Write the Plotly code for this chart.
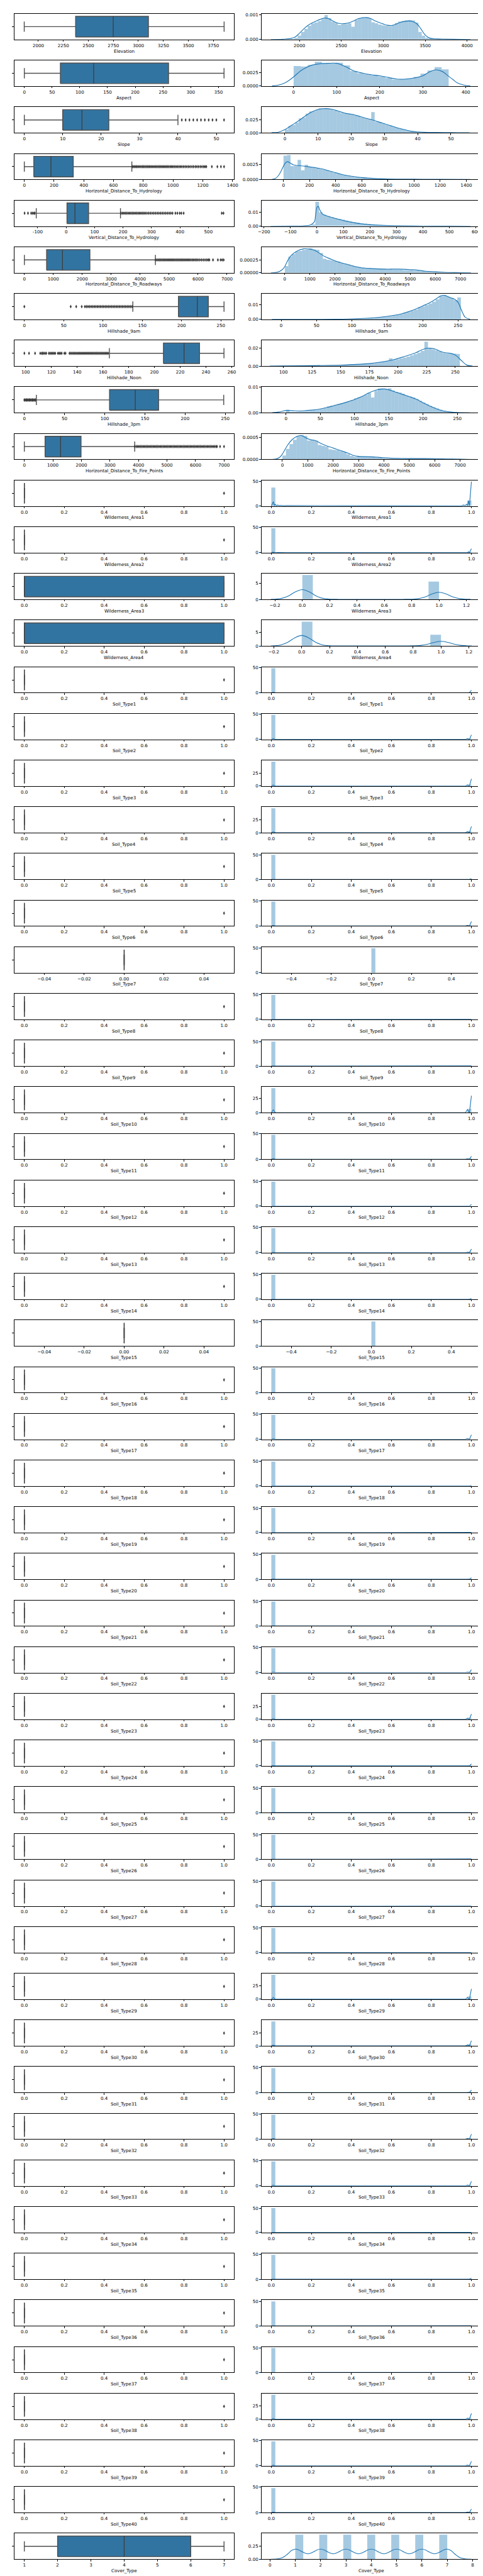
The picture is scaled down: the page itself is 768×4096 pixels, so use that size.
import plotly.graph_objects as go

# ====================== DATA ======================
CONT_NAMES = ["Elevation", "Aspect", "Slope", "Horizontal_Distance_To_Hydrology",
              "Vertical_Distance_To_Hydrology", "Horizontal_Distance_To_Roadways",
              "Hillshade_9am", "Hillshade_Noon", "Hillshade_3pm",
              "Horizontal_Distance_To_Fire_Points"]
WILD_NAMES = ["Wilderness_Area1", "Wilderness_Area2", "Wilderness_Area3", "Wilderness_Area4"]
SOIL_NAMES = ["Soil_Type%d" % i for i in range(1, 41)]
COVER_NAME = "Cover_Type"

# box stats: [low whisker, q1, median, q3, high whisker]
ELEV_BOX = [1859, 2373, 2749, 3101, 3858]
ASPECT_BOX = [0, 65, 125, 260, 360]
SLOPE_BOX = [0, 10, 15, 22, 40]
HYDRO_BOX = [0, 64, 179, 329, 723]
VERT_BOX = [-105, 3, 31, 79, 191]
ROAD_BOX = [0, 768, 1316, 2263, 4526]
HS9_BOX = [138, 196, 220, 234, 254]
NOON_BOX = [165, 207, 223, 235, 254]
HS3_BOX = [15, 106, 138, 167, 248]
FIRE_BOX = [0, 727, 1271, 1987, 3868]
BIN_BOX = [0, 0, 0, 0, 0]
WIDE_BIN_BOX = [0, 0, 0, 1, 1]
CONST_BOX = [0, 0, 0, 0, 0]
COVER_BOX = [1, 2, 4, 6, 7]

SLOPE_OUT = [41, 42, 43, 44, 45, 46, 47, 48, 49, 50, 52]
HYDRO_OUT = [724, 732, 741, 750, 758, 767, 776, 785, 794, 802, 811, 820, 829, 838, 846, 855, 864,
             873, 882, 891, 900, 909, 918, 927, 936, 945, 954, 963, 972, 982, 991, 1000, 1010, 1020,
             1030, 1040, 1050, 1060, 1071, 1082, 1093, 1104, 1115, 1127, 1138, 1150, 1161, 1172,
             1184, 1195, 1206, 1215, 1224, 1261, 1298, 1322, 1343]
VERT_OUT = [-146, -134, -123, -118, -113, -110, 193, 198, 203, 208, 213, 218, 223, 228, 233, 238,
            243, 248, 253, 258, 263, 268, 273, 278, 284, 290, 296, 302, 308, 314, 320, 326, 332,
            338, 344, 350, 356, 362, 368, 374, 384, 391, 399, 405, 413, 547, 553]
ROAD_OUT = [4530, 4575, 4620, 4665, 4710, 4755, 4800, 4845, 4890, 4935, 4980, 5025, 5070, 5115,
            5160, 5205, 5250, 5295, 5340, 5385, 5430, 5475, 5520, 5565, 5610, 5655, 5700, 5750,
            5800, 5850, 5900, 5950, 6000, 6060, 6120, 6180, 6240, 6300, 6350, 6390, 6516, 6684,
            6779, 6832, 6884]
HS9_OUT = [0, 59, 66, 73, 77, 79, 81, 83, 85, 87, 89, 91, 93, 95, 97, 99, 101, 103, 105, 107, 109,
           111, 113, 115, 117, 119, 121, 123, 125, 127, 129, 131, 133, 135, 137]
NOON_OUT = [99, 102.6, 107.3, 111.3, 112.5, 113, 114, 115, 116, 118, 119, 120, 121, 122, 123, 125,
            126, 127, 128, 130, 131, 134, 135, 136, 137, 138, 139, 140, 141, 142, 143, 144, 145,
            146, 147, 148, 149, 150, 151, 152, 153, 154, 155, 156, 157, 158, 159, 160, 161, 162,
            163, 164]
HS3_OUT = [0, 1, 2, 3, 4, 5, 6, 7, 8, 9, 10, 11, 12, 13, 14]
FIRE_OUT = [3870, 3920, 3970, 4020, 4070, 4120, 4170, 4220, 4270, 4320, 4370, 4420, 4470, 4520,
            4570, 4620, 4670, 4720, 4770, 4820, 4870, 4920, 4970, 5020, 5070, 5120, 5170, 5220,
            5270, 5320, 5370, 5420, 5470, 5520, 5570, 5620, 5670, 5720, 5770, 5820, 5870, 5920,
            5970, 6020, 6070, 6120, 6170, 6220, 6270, 6320, 6370, 6420, 6470, 6520, 6570, 6620,
            6670, 6720, 6752, 6859, 6998]
BIN_OUT = [1]

# histograms: (first bin edge, bin width, heights)
ELEV_HIST = (1859, 40, [0.00001, 0.00002, 0.00006, 0.00016, 0.00030, 0.00042, 0.00055, 0.00064, 0.00068, 0.00074,
                        0.00082, 0.00098, 0.00086, 0.00071, 0.00066, 0.00058, 0.00061, 0.00062, 0.00065, 0.00051,
                        0.00078, 0.00086, 0.00089, 0.00088, 0.00085, 0.00069, 0.00065, 0.00060, 0.00057, 0.00055,
                        0.00053, 0.00058, 0.00066, 0.00072, 0.00075, 0.00077, 0.00078, 0.00076, 0.00068, 0.00030,
                        0.00015, 0.00007, 0.00004, 0.00003, 0.00003, 0.00002, 0.00002, 0.00002, 0.00001, 0.00001])
ASPECT_HIST = (0, 16.36, [0.0037, 0.0036, 0.0039, 0.0045, 0.0042, 0.0042, 0.0043, 0.0038, 0.0028, 0.0024, 0.0022,
                          0.0020, 0.0018, 0.0015, 0.0012, 0.0013, 0.0014, 0.0017, 0.0023, 0.0029, 0.0035, 0.0031])
SLOPE_HIST = (0, 1.04, [0.006, 0.013, 0.015, 0.019, 0.027, 0.029, 0.036, 0.040, 0.041, 0.044,
                        0.046, 0.046, 0.045, 0.044, 0.042, 0.040, 0.037, 0.036, 0.0355, 0.035,
                        0.033, 0.031, 0.029, 0.027, 0.026, 0.039, 0.021, 0.020, 0.017, 0.015,
                        0.013, 0.011, 0.0095, 0.0078, 0.006, 0.0045, 0.0033, 0.0024, 0.0017, 0.0012,
                        0.0008, 0.0006, 0.0005, 0.0004, 0.0003, 0.0003, 0.0002, 0.0002, 0.0001, 0.0001])
HYDRO_HIST = (0, 26.9, [0.0039, 0.0040, 0.0022, 0.0022, 0.0032, 0.0015, 0.0024, 0.0021, 0.0019, 0.0018,
                        0.0017, 0.0016, 0.0015, 0.0013, 0.0011, 0.0009, 0.0008, 0.0007, 0.0006, 0.0005,
                        0.0004, 0.00035, 0.0003, 0.00025, 0.0002, 0.00017, 0.00014, 0.00012, 0.0001, 0.00008,
                        0.00007, 0.00006, 0.00005, 0.00004, 0.00004, 0.00003, 0.00003, 0.00003, 0.00002, 0.00002,
                        0.00002, 0.00002, 0.00001, 0.00001, 0.00001, 0.00001, 0.00001, 0.00001, 0.00001, 0.00001])
VERT_HIST = (-146, 14, [0.00003, 0.00003, 0.00005, 0.00008, 0.0001, 0.00015, 0.0002, 0.0003, 0.0005, 0.0013,
                        0.0176, 0.0100, 0.0082, 0.0072, 0.0065, 0.0058, 0.0052, 0.0046, 0.0040, 0.0034,
                        0.0029, 0.0025, 0.0021, 0.0018, 0.0015, 0.0012, 0.0010, 0.0008, 0.0007, 0.0006,
                        0.0005, 0.0004, 0.0003, 0.00025, 0.0002, 0.00016, 0.00013, 0.0001, 0.00008, 0.00006,
                        0.00005, 0.00004, 0.00003, 0.00003, 0.00002, 0.00002, 0.00001, 0.00001, 0.00001, 0.00002])
ROAD_HIST = (0, 138, [0.00013, 0.00031, 0.00036, 0.00041, 0.00042, 0.00044, 0.00045, 0.00047, 0.00045, 0.00044,
                      0.00038, 0.00027, 0.00025, 0.00024, 0.00023, 0.00021, 0.00019, 0.00017, 0.00016, 0.00014,
                      0.00012, 0.00011, 0.00010, 0.00009, 0.00009, 0.00008, 0.00008, 0.00007, 0.00007, 0.00007,
                      0.00007, 0.00006, 0.00006, 0.00006, 0.00005, 0.00005, 0.00005, 0.00004, 0.00004, 0.00003,
                      0.00003, 0.00002, 0.00002, 0.00002, 0.00001, 0.00001, 0.00001, 0.00001, 0.000005, 0.000005])
HS9_HIST = (0, 5.08, [0.00005, 0.00001, 0.00001, 0.00001, 0.00001, 0.00001, 0.00001, 0.00001, 0.00001, 0.00002,
                      0.00003, 0.00004, 0.00005, 0.00006, 0.00008, 0.0001, 0.00012, 0.00015, 0.0002, 0.0003,
                      0.0004, 0.0005, 0.0006, 0.0007, 0.0009, 0.0010, 0.0012, 0.0014, 0.0017, 0.0020,
                      0.0023, 0.0027, 0.0032, 0.0037, 0.0043, 0.0050, 0.0058, 0.0067, 0.0082, 0.0088,
                      0.0097, 0.0108, 0.0120, 0.0135, 0.0160, 0.0165, 0.0152, 0.0145, 0.0130, 0.0148])
NOON_HIST = (99, 3.1, [0.0001, 0.0001, 0.0002, 0.0001, 0.0002, 0.0002, 0.0003, 0.0003, 0.0004, 0.0004,
                       0.0005, 0.0005, 0.0006, 0.0007, 0.0008, 0.0009, 0.0011, 0.0012, 0.0014, 0.0016,
                       0.0018, 0.0020, 0.0022, 0.0025, 0.0028, 0.0032, 0.0035, 0.0045, 0.0052, 0.0058,
                       0.0085, 0.0066, 0.0076, 0.0085, 0.0095, 0.0105, 0.0118, 0.0132, 0.0148, 0.0168,
                       0.0270, 0.0195, 0.0185, 0.0172, 0.0160, 0.0145, 0.0142, 0.0145, 0.0138, 0.0135])
HS3_HIST = (0, 4.96, [0.0012, 0.0003, 0.0003, 0.0004, 0.0005, 0.0006, 0.0007, 0.0008, 0.0010, 0.0012,
                      0.0015, 0.0018, 0.0025, 0.0027, 0.0031, 0.0034, 0.0038, 0.0041, 0.0045, 0.0050,
                      0.0057, 0.0061, 0.0065, 0.0070, 0.0078, 0.0060, 0.0086, 0.0095, 0.0096, 0.0093,
                      0.0096, 0.0088, 0.0082, 0.0079, 0.0074, 0.0068, 0.0064, 0.0060, 0.0054, 0.0047,
                      0.0040, 0.0034, 0.0027, 0.0022, 0.0017, 0.0012, 0.0008, 0.0005, 0.0003, 0.0001])
FIRE_HIST = (0, 140, [0.00009, 0.00024, 0.00035, 0.00045, 0.00054, 0.000558, 0.00054, 0.00043, 0.00045, 0.00043,
                      0.00033, 0.00031, 0.00029, 0.00023, 0.00022, 0.00021, 0.00019, 0.00016, 0.00012, 0.00008,
                      0.00006, 0.00007, 0.00006, 0.00006, 0.00005, 0.00005, 0.00004, 0.00004, 0.00003, 0.00003,
                      0.00003, 0.00003, 0.00003, 0.00002, 0.00002, 0.00002, 0.00002, 0.00002, 0.00002, 0.00002,
                      0.00002, 0.00002, 0.00002, 0.00001, 0.00001, 0.00001, 0.00001, 0.00001, 0.000005, 0.000005])
COVER_HIST = (1, 0.3158, [0.47, 0, 0, 0.47, 0, 0, 0.47, 0, 0, 0.47, 0, 0, 0.47, 0, 0, 0.47, 0, 0, 0.47])

# KDE curves: (x, y)
ELEV_KDE = ([1660, 1800, 1900, 1950, 2000, 2050, 2100, 2150, 2200, 2250, 2300, 2350, 2400, 2450, 2500, 2550,
             2600, 2650, 2700, 2750, 2800, 2850, 2900, 2950, 3000, 3050, 3100, 3150, 3200, 3250, 3300, 3350,
             3400, 3450, 3500, 3550, 3600, 3700, 3850, 4040],
            [0, 0.00001, 0.00004, 0.0001, 0.00025, 0.00042, 0.00056, 0.00066, 0.00074, 0.00081, 0.00086,
             0.00083, 0.00074, 0.00066, 0.00063, 0.00064, 0.00068, 0.00075, 0.00083, 0.00087, 0.00088,
             0.00084, 0.00075, 0.00068, 0.00062, 0.00057, 0.00056, 0.00061, 0.00068, 0.00072, 0.00074,
             0.00072, 0.00063, 0.00042, 0.00018, 0.00006, 0.00003, 0.00002, 0.00001, 0.0])
ASPECT_KDE = ([-50, -35, -20, -10, 0, 10, 20, 40, 60, 80, 100, 120, 140, 160, 180, 200, 220, 240, 260, 280,
               300, 315, 330, 345, 360, 370, 380, 395, 410],
              [0.00005, 0.0002, 0.0006, 0.0011, 0.0017, 0.0024, 0.0030, 0.0038, 0.0041, 0.0042, 0.0042,
               0.0036, 0.0028, 0.0024, 0.0021, 0.0019, 0.0016, 0.0013, 0.0013, 0.0015, 0.0019, 0.0026,
               0.0030, 0.0027, 0.0018, 0.0012, 0.0006, 0.0002, 0.00005])
SLOPE_KDE = ([-4, -2, 0, 2, 4, 6, 8, 10, 12, 14, 16, 18, 20, 22, 24, 26, 28, 30, 32, 34, 36, 38, 40, 42, 45,
              48, 52, 55.6],
             [0.0005, 0.001, 0.006, 0.014, 0.022, 0.031, 0.039, 0.044, 0.0455, 0.0445, 0.041, 0.037, 0.035,
              0.032, 0.028, 0.025, 0.021, 0.017, 0.013, 0.009, 0.006, 0.003, 0.0016, 0.0009, 0.0006, 0.0004,
              0.0002, 0.0001])
HYDRO_KDE = ([-90, -60, -40, -20, 0, 15, 30, 50, 75, 100, 150, 200, 250, 300, 350, 400, 450, 500, 550, 600,
              700, 800, 1000, 1200, 1430],
             [0.0, 0.0002, 0.0006, 0.0013, 0.0022, 0.0027, 0.0029, 0.0027, 0.0024, 0.0023, 0.0022, 0.00205,
              0.0019, 0.0017, 0.0014, 0.0011, 0.0008, 0.0006, 0.00045, 0.0003, 0.00015, 0.00008, 0.00004,
              0.00002, 0.00001])
VERT_KDE = ([-175, -100, -50, -25, -10, -5, 0, 5, 10, 20, 30, 50, 75, 100, 125, 150, 175, 200, 250, 300, 400,
             500, 580],
            [0.0, 0.00005, 0.0002, 0.0008, 0.003, 0.008, 0.0135, 0.0142, 0.012, 0.0088, 0.0078, 0.0066, 0.0052,
             0.0040, 0.0030, 0.0021, 0.0015, 0.0010, 0.0005, 0.0003, 0.0001, 0.00005, 0.0])
ROAD_KDE = ([-550, -300, -100, 0, 100, 250, 500, 750, 1000, 1200, 1400, 1600, 1800, 2000, 2200, 2500, 2800,
             3000, 3500, 4000, 4500, 5000, 5300, 5600, 6000, 6500, 7000, 7420],
            [0.0, 0.00001, 0.00006, 0.00012, 0.00022, 0.00033, 0.00042, 0.00046, 0.000455, 0.00043, 0.00037,
             0.00031, 0.00027, 0.00023, 0.0002, 0.00016, 0.00012, 0.0001, 0.00008, 0.00007, 0.00007, 0.00006,
             0.00005, 0.00003, 0.00002, 0.000006, 0.000003, 0.0])
HS9_KDE = ([-13, 0, 50, 75, 100, 125, 150, 160, 170, 180, 190, 200, 210, 220, 225, 230, 235, 240, 245, 250,
            255, 260, 267],
           [0.00005, 0.00004, 0.00005, 0.0001, 0.0004, 0.0009, 0.0021, 0.0028, 0.0038, 0.0052, 0.007, 0.0091,
            0.0113, 0.0142, 0.0158, 0.0163, 0.0155, 0.0145, 0.0137, 0.0115, 0.006, 0.0015, 0.0001])
NOON_KDE = ([88, 100, 125, 150, 160, 175, 185, 195, 205, 215, 220, 225, 228, 232, 236, 240, 245, 250, 255,
             260, 265],
            [0.00005, 0.0002, 0.0005, 0.0011, 0.0017, 0.0028, 0.0044, 0.0067, 0.0103, 0.0145, 0.0175,
             0.0197, 0.0198, 0.019, 0.0168, 0.015, 0.0143, 0.0122, 0.0065, 0.0012, 0.0001])
HS3_KDE = ([-20, -10, 0, 10, 20, 30, 40, 50, 60, 70, 80, 90, 100, 110, 120, 130, 140, 145, 150, 160, 170, 180,
            190, 200, 210, 220, 230, 240, 250, 268],
           [0.00005, 0.0003, 0.0009, 0.0008, 0.0007, 0.0009, 0.0011, 0.0015, 0.0021, 0.0028, 0.0035, 0.0043,
            0.0052, 0.0063, 0.0077, 0.0088, 0.0093, 0.0093, 0.009, 0.0081, 0.0072, 0.0063, 0.0053, 0.0039,
            0.0026, 0.0015, 0.0007, 0.0003, 0.0001, 0.0])
FIRE_KDE = ([-500, -250, -100, 0, 200, 400, 600, 750, 900, 1100, 1300, 1500, 1700, 2000, 2300, 2600, 2800,
             3000, 3500, 4000, 4500, 5000, 5500, 6000, 6500, 7000, 7420],
            [0.0, 0.00001, 0.00005, 0.00012, 0.00032, 0.00046, 0.00053, 0.000545, 0.0005, 0.00045, 0.00043,
             0.00037, 0.00032, 0.00026, 0.0002, 0.00014, 0.00009, 0.00007, 0.00006, 0.00004, 0.000025,
             0.00002, 0.00002, 0.000018, 0.00001, 0.000005, 0.0])
COVER_KDE = ([0.05, 0.3, 0.5, 0.7, 0.85, 1.0, 1.15, 1.3, 1.5, 1.7, 1.85, 2.0, 2.15, 2.3, 2.5, 2.7, 2.85, 3.0,
              3.15, 3.3, 3.5, 3.7, 3.85, 4.0, 4.15, 4.3, 4.5, 4.7, 4.85, 5.0, 5.15, 5.3, 5.5, 5.7, 5.85, 6.0,
              6.15, 6.3, 6.5, 6.7, 6.85, 7.0, 7.15, 7.3, 7.5, 7.7, 7.95],
             [0.0, 0.006, 0.03, 0.1, 0.165, 0.193, 0.175, 0.135, 0.103, 0.135, 0.175, 0.193, 0.175, 0.135,
              0.103, 0.135, 0.175, 0.193, 0.175, 0.135, 0.103, 0.135, 0.175, 0.193, 0.175, 0.135, 0.103,
              0.135, 0.175, 0.193, 0.175, 0.135, 0.103, 0.135, 0.175, 0.193, 0.175, 0.135, 0.103, 0.135,
              0.175, 0.193, 0.165, 0.1, 0.03, 0.006, 0.0])

# Wilderness areas: histogram bars at 0 and at 1, KDE
WILD_BIN_WIDTH = [0.02, 0.02, 0.0769, 0.0769]
WILD_BAR0 = [37.9, 48.5, 7.7, 9.1]
WILD_BAR1 = [11.5, 1.5, 5.6, 4.2]
WA12_KDE_X = [0.0, 0.01, 0.015, 0.02, 0.025, 0.03, 0.04, 0.05, 0.06, 0.08, 0.5, 0.92, 0.94, 0.95, 0.96, 0.97,
              0.975, 0.98, 0.985, 0.99, 1.0]
WA1_KDE_Y = [0.0, 9.0, 1.0, 3.5, 0.5, 2.0, 1.0, 1.5, 0.7, 1.0, 0.8, 1.0, 1.5, 0.6, 2.0, 1.0, 3.5, 0.8, 11.0,
             0.5, 50.0]
WA2_KDE_Y = [0.0, 1.2, 0.2, 0.6, 0.1, 0.4, 0.2, 0.3, 0.1, 0.2, 0.1, 0.2, 0.3, 0.1, 0.4, 0.2, 0.6, 0.1, 2.0,
             0.1, 8.0]
WA3_KDE_X = [-0.23, -0.2, -0.15, -0.1, -0.05, 0.0, 0.05, 0.1, 0.15, 0.2, 0.25, 0.3, 0.5, 0.7, 0.75, 0.8, 0.85,
             0.9, 0.95, 1.0, 1.05, 1.1, 1.15, 1.2, 1.23]
WA3_KDE_Y = [0.03, 0.07, 0.33, 1.12, 2.39, 3.08, 2.39, 1.12, 0.33, 0.07, 0.03, 0.02, 0.02, 0.02, 0.03, 0.05,
             0.24, 0.81, 1.74, 2.24, 1.74, 0.81, 0.24, 0.05, 0.03]
WA4_KDE_X = [-0.22, -0.2, -0.15, -0.1, -0.05, 0.0, 0.05, 0.1, 0.15, 0.2, 0.25, 0.3, 0.5, 0.7, 0.75, 0.8, 0.85,
             0.9, 0.95, 1.0, 1.05, 1.1, 1.15, 1.2, 1.22]
WA4_KDE_Y = [0.04, 0.09, 0.42, 1.42, 3.05, 3.96, 3.05, 1.42, 0.42, 0.1, 0.05, 0.04, 0.04, 0.04, 0.05, 0.08,
             0.2, 0.64, 1.36, 1.76, 1.36, 0.64, 0.2, 0.05, 0.03]

# Soil types (index 0 = Soil_Type1); 7 and 15 are constant (all zero)
SOIL_CONSTANT = [7, 15]
SOIL_BAR0 = [49.0, 48.0, 47.0, 47.0, 49.8, 48.5, 50.0, 50.0, 50.0, 43.3, 48.0, 49.5, 48.0, 49.6, 50.0, 50.0,
             48.5, 49.9, 49.9, 49.3, 50.0, 48.3, 47.0, 49.0, 50.0, 50.0, 49.9, 50.0, 45.0, 47.0, 48.5, 48.0,
             48.2, 50.0, 49.5, 50.0, 50.0, 47.0, 48.5, 48.5]
SOIL_BAR1 = [1.0, 2.0, 3.0, 3.0, 0.2, 1.5, 0.0, 0.0, 0.0, 6.7, 2.0, 0.5, 2.0, 0.4, 0.0, 0.0, 1.5, 0.1, 0.1,
             0.7, 0.0, 1.7, 3.0, 1.0, 0.0, 0.0, 0.1, 0.0, 5.0, 3.0, 1.5, 2.0, 1.8, 0.0, 0.5, 0.0, 0.0, 3.0,
             1.5, 1.5]
SOIL_KDE_END = [5, 9, 14, 12, 1.5, 9, 0, 0.2, 0.2, 30, 6, 3, 7, 2, 0, 1, 9, 1, 0.5, 3, 0.2, 6, 10, 4, 0.1,
                0.8, 0.3, 0.2, 19, 10, 5, 10, 9, 0.3, 2, 0.2, 0.3, 11, 9, 7]
SOIL_KDE_B0 = [0.8, 1.5, 1.8, 1.8, 0.3, 1.2, 0, 0, 0, 5, 1, 0.5, 1, 0.3, 0, 0.1, 1.2, 0.2, 0.1, 0.5, 0, 1,
               1.5, 0.6, 0, 0.1, 0.1, 0, 3, 1.5, 0.8, 1.2, 1.2, 0.05, 0.3, 0, 0, 1.5, 1.2, 1]
SOIL_KDE_B1 = [0.8, 1.5, 2.0, 2.0, 0.3, 1.5, 0, 0, 0, 5.5, 1, 0.5, 1, 0.3, 0, 0.1, 1.5, 0.2, 0.1, 0.5, 0, 1,
               1.8, 0.6, 0, 0.1, 0.1, 0, 3, 1.8, 0.8, 1.5, 1.5, 0.05, 0.3, 0, 0, 1.8, 1.5, 1]
SOIL_KDE_X = [0.0, 0.01, 0.02, 0.5, 0.97, 0.98, 0.99, 1.0]

# axis ranges and tick values (box x, hist x, hist y)
CONT_BOX_RANGE = [[1760, 3957], [-18, 378], [-2.6, 54.6], [-67, 1410], [-182, 590], [-347, 7242],
                  [-12.7, 266.7], [91.2, 261.8], [-12.4, 260.8], [-350, 7348]]
CONT_BOX_TICKS = [[2000, 2250, 2500, 2750, 3000, 3250, 3500, 3750], [0, 50, 100, 150, 200, 250, 300, 350],
                  [0, 10, 20, 30, 40, 50], [0, 200, 400, 600, 800, 1000, 1200, 1400],
                  [-100, 0, 100, 200, 300, 400, 500], [0, 1000, 2000, 3000, 4000, 5000, 6000, 7000],
                  [0, 50, 100, 150, 200, 250], [100, 120, 140, 160, 180, 200, 220, 240, 260],
                  [0, 50, 100, 150, 200, 250], [0, 1000, 2000, 3000, 4000, 5000, 6000, 7000]]
CONT_HIST_RANGE = [[1545, 4171], [-75, 436], [-7.1, 59.2], [-170, 1516], [-210, 621], [-936, 7837],
                   [-28, 283], [80.6, 272.8], [-36, 285], [-828, 7839]]
CONT_HIST_TICKS = [[2000, 2500, 3000, 3500, 4000], [0, 100, 200, 300, 400], [0, 10, 20, 30, 40, 50],
                   [0, 200, 400, 600, 800, 1000, 1200, 1400], [-200, -100, 0, 100, 200, 300, 400, 500, 600],
                   [0, 1000, 2000, 3000, 4000, 5000, 6000, 7000], [0, 50, 100, 150, 200, 250],
                   [100, 125, 150, 175, 200, 225, 250], [0, 50, 100, 150, 200, 250],
                   [0, 1000, 2000, 3000, 4000, 5000, 6000, 7000]]
CONT_Y_TICKS = [[0, 0.001], [0, 0.0025], [0, 0.025], [0, 0.0025], [0, 0.01], [0, 0.00025], [0, 0.01],
                [0, 0.02], [0, 0.01], [0, 0.0005]]
CONT_Y_DEC = [3, 4, 3, 4, 2, 5, 2, 2, 2, 4]
CONT_BOXES = [ELEV_BOX, ASPECT_BOX, SLOPE_BOX, HYDRO_BOX, VERT_BOX, ROAD_BOX, HS9_BOX, NOON_BOX, HS3_BOX, FIRE_BOX]
CONT_OUTS = [[], [], SLOPE_OUT, HYDRO_OUT, VERT_OUT, ROAD_OUT, HS9_OUT, NOON_OUT, HS3_OUT, FIRE_OUT]
CONT_HISTS = [ELEV_HIST, ASPECT_HIST, SLOPE_HIST, HYDRO_HIST, VERT_HIST, ROAD_HIST, HS9_HIST, NOON_HIST,
              HS3_HIST, FIRE_HIST]
CONT_KDES = [ELEV_KDE, ASPECT_KDE, SLOPE_KDE, HYDRO_KDE, VERT_KDE, ROAD_KDE, HS9_KDE, NOON_KDE, HS3_KDE, FIRE_KDE]

UNIT_TICKS = [0.0, 0.2, 0.4, 0.6, 0.8, 1.0]
WIDE_UNIT_TICKS = [-0.2, 0.0, 0.2, 0.4, 0.6, 0.8, 1.0, 1.2]
CONST_BOX_TICKS = [-0.04, -0.02, 0.0, 0.02, 0.04]
CONST_HIST_TICKS = [-0.4, -0.2, 0.0, 0.2, 0.4]
COVER_BOX_TICKS = [1, 2, 3, 4, 5, 6, 7]
COVER_HIST_TICKS = [0, 1, 2, 3, 4, 5, 6, 7, 8]

# ====================== STYLE / LAYOUT ======================
S = 768 / 1080.0
REF_H = 5760.0
FONT = "DejaVu Sans"
FS = 10 * S
BOX_FILL = "#3274a1"
BOX_LINE = "#4f4f4f"
MED_LINE = "#3d3d3d"
FLIER = "#3d3d3d"
HIST_FILL = "rgba(31,119,180,0.4)"
KDE_LINE = "#1f77b4"
BW, CAP = 0.4, 0.2
LEFT_DOM = [14 / 1080.0, 513 / 1080.0]
RIGHT_DOM = [575 / 1080.0, 1075 / 1080.0]
ROW_TOP0, ROW_PITCH, AX_H = 14.0, 104.54, 57.5


def fmt(v, d):
    return ("%.*f" % (d, v)).replace("-", "\u2212")


def suffix(n):
    return "" if n == 1 else str(n)


fig = go.Figure()
layout = {}
annotations = []


def axis_common():
    return dict(ticks="outside", ticklen=3.5 * S, tickwidth=0.8 * S, tickcolor="black",
                showline=True, linecolor="black", linewidth=0.8, mirror=True, showgrid=False,
                zeroline=False, tickfont=dict(size=FS, family=FONT, color="black"), fixedrange=True)


def set_axes(n, xdom, ydom, xr, xt, xtt, yr, yt, ytt):
    sx = suffix(n)
    ax = axis_common()
    ax.update(domain=xdom, anchor="y" + sx, range=xr, tickmode="array", tickvals=xt, ticktext=xtt)
    layout["xaxis" + sx] = ax
    ay = axis_common()
    ay.update(domain=ydom, anchor="x" + sx, range=yr, tickmode="array", tickvals=yt, ticktext=ytt)
    layout["yaxis" + sx] = ay


def add_box(n, stats, outs):
    sx = suffix(n)
    lo, q1, med, q3, hi = stats
    kw = dict(xaxis="x" + sx, yaxis="y" + sx, hoverinfo="skip", showlegend=False)
    fig.add_trace(go.Scatter(x=[lo, q1, None, q3, hi], y=[0, 0, None, 0, 0], mode="lines",
                             line=dict(color=BOX_LINE, width=2.0 * S), **kw))
    fig.add_trace(go.Scatter(x=[lo, lo, None, hi, hi], y=[-CAP, CAP, None, -CAP, CAP], mode="lines",
                             line=dict(color=BOX_LINE, width=2.0 * S), **kw))
    fig.add_trace(go.Scatter(x=[q1, q3, q3, q1, q1], y=[-BW, -BW, BW, BW, -BW], mode="lines",
                             fill="toself", fillcolor=BOX_FILL, line=dict(color=BOX_LINE, width=2.0 * S), **kw))
    fig.add_trace(go.Scatter(x=[med, med], y=[-BW, BW], mode="lines",
                             line=dict(color=MED_LINE, width=1.8 * S), **kw))
    if outs:
        fig.add_trace(go.Scatter(x=outs, y=[0] * len(outs), mode="markers",
                                 marker=dict(symbol="diamond-tall", size=6 * S, color=FLIER,
                                             line=dict(width=0)), **kw))


def add_hist(n, lefts, width, heights, kx, ky, shape):
    sx = suffix(n)
    kw = dict(xaxis="x" + sx, yaxis="y" + sx, hoverinfo="skip", showlegend=False)
    fig.add_trace(go.Bar(x=lefts, y=heights, width=width, offset=0, marker=dict(color=HIST_FILL, line=dict(width=0)),
                         **kw))
    if kx:
        fig.add_trace(go.Scatter(x=kx, y=ky, mode="lines",
                                 line=dict(color=KDE_LINE, width=1.6 * S, shape=shape), **kw))


def add_label(xdom, ybottom, text):
    annotations.append(dict(x=(xdom[0] + xdom[1]) / 2, y=ybottom, xref="paper", yref="paper",
                            text=text, showarrow=False, xanchor="center", yanchor="middle",
                            yshift=-25.7 * S, font=dict(size=FS, family=FONT, color="black")))


rows = []
for i, name in enumerate(CONT_NAMES):
    start, w, hs = CONT_HISTS[i]
    lefts = [start + w * k for k in range(len(hs))]
    kx, ky = CONT_KDES[i]
    d = CONT_Y_DEC[i]
    rows.append(dict(name=name, box=CONT_BOXES[i], outs=CONT_OUTS[i], bxr=CONT_BOX_RANGE[i],
                     bxt=CONT_BOX_TICKS[i], bxtt=[str(v) for v in CONT_BOX_TICKS[i]],
                     lefts=lefts, width=w, heights=hs, kx=kx, ky=ky, shape="spline",
                     hxr=CONT_HIST_RANGE[i], hxt=CONT_HIST_TICKS[i],
                     hxtt=[fmt(v, 0) for v in CONT_HIST_TICKS[i]],
                     yt=CONT_Y_TICKS[i], ytt=[fmt(v, d) for v in CONT_Y_TICKS[i]],
                     ytop=1.05 * max(max(hs), max(ky))))

WILD_KDES = [(WA12_KDE_X, WA1_KDE_Y), (WA12_KDE_X, WA2_KDE_Y), (WA3_KDE_X, WA3_KDE_Y), (WA4_KDE_X, WA4_KDE_Y)]
WILD_HRANGE = [[-0.05, 1.05], [-0.05, 1.05], [-0.30, 1.31], [-0.29, 1.29]]
for i, name in enumerate(WILD_NAMES):
    w = WILD_BIN_WIDTH[i]
    kx, ky = WILD_KDES[i]
    wide = i >= 2
    hs = [WILD_BAR0[i], WILD_BAR1[i]]
    ytop = 1.05 * max(max(hs), max(ky))
    yt = [0, 5] if wide else [0, 50]
    hxt = WIDE_UNIT_TICKS if wide else UNIT_TICKS
    rows.append(dict(name=name, box=WIDE_BIN_BOX if wide else BIN_BOX, outs=[] if wide else BIN_OUT,
                     bxr=[-0.05, 1.05], bxt=UNIT_TICKS, bxtt=[fmt(v, 1) for v in UNIT_TICKS],
                     lefts=[0.0, 1.0 - w], width=w, heights=hs, kx=kx, ky=ky,
                     shape="spline" if wide else "linear",
                     hxr=WILD_HRANGE[i], hxt=hxt, hxtt=[fmt(v, 1) for v in hxt],
                     yt=yt, ytt=[str(v) for v in yt], ytop=ytop))

for i, name in enumerate(SOIL_NAMES):
    if (i + 1) in SOIL_CONSTANT:
        rows.append(dict(name=name, box=CONST_BOX, outs=[], bxr=[-0.055, 0.055], bxt=CONST_BOX_TICKS,
                         bxtt=[fmt(v, 2) for v in CONST_BOX_TICKS],
                         lefts=[0.0], width=0.02, heights=[SOIL_BAR0[i]], kx=None, ky=None, shape="linear",
                         hxr=[-0.55, 0.55], hxt=CONST_HIST_TICKS, hxtt=[fmt(v, 1) for v in CONST_HIST_TICKS],
                         yt=[0, 50], ytt=["0", "50"], ytop=1.05 * SOIL_BAR0[i]))
        continue
    ky = [0.0, SOIL_KDE_B0[i], 0.0, 0.0, 0.0, SOIL_KDE_B1[i], 0.0, SOIL_KDE_END[i]]
    ytop = 1.05 * max(SOIL_BAR0[i], SOIL_KDE_END[i])
    yt = [0, 50] if ytop >= 50 else [0, 25]
    rows.append(dict(name=name, box=BIN_BOX, outs=BIN_OUT, bxr=[-0.05, 1.05], bxt=UNIT_TICKS,
                     bxtt=[fmt(v, 1) for v in UNIT_TICKS],
                     lefts=[0.0, 0.98], width=0.02, heights=[SOIL_BAR0[i], SOIL_BAR1[i]],
                     kx=SOIL_KDE_X, ky=ky, shape="linear",
                     hxr=[-0.05, 1.05], hxt=UNIT_TICKS, hxtt=[fmt(v, 1) for v in UNIT_TICKS],
                     yt=yt, ytt=[str(v) for v in yt], ytop=ytop))

cstart, cw, chs = COVER_HIST
rows.append(dict(name=COVER_NAME, box=COVER_BOX, outs=[], bxr=[0.7, 7.3], bxt=COVER_BOX_TICKS,
                 bxtt=[str(v) for v in COVER_BOX_TICKS],
                 lefts=[cstart + cw * k for k in range(len(chs))], width=cw, heights=chs,
                 kx=COVER_KDE[0], ky=COVER_KDE[1], shape="spline",
                 hxr=[-0.34, 8.35], hxt=COVER_HIST_TICKS, hxtt=[str(v) for v in COVER_HIST_TICKS],
                 yt=[0, 0.25], ytt=["0.00", "0.25"], ytop=1.05 * max(max(chs), max(COVER_KDE[1]))))

for r, row in enumerate(rows):
    top = ROW_TOP0 + r * ROW_PITCH
    bot = top + AX_H
    ydom = [1 - bot / REF_H, 1 - top / REF_H]
    nb, nh = 2 * r + 1, 2 * r + 2
    set_axes(nb, LEFT_DOM, ydom, row["bxr"], row["bxt"], row["bxtt"], [-0.5, 0.5], [0], [""])
    add_box(nb, row["box"], row["outs"])
    set_axes(nh, RIGHT_DOM, ydom, row["hxr"], row["hxt"], row["hxtt"], [0, row["ytop"]], row["yt"], row["ytt"])
    add_hist(nh, row["lefts"], row["width"], row["heights"], row["kx"], row["ky"], row["shape"])
    add_label(LEFT_DOM, ydom[0], row["name"])
    add_label(RIGHT_DOM, ydom[0], row["name"])

fig.update_layout(**layout)
fig.update_layout(width=768, height=4096, margin=dict(l=0, r=0, t=0, b=0), autosize=False,
                  paper_bgcolor="white", plot_bgcolor="white", showlegend=False, barmode="overlay",
                  annotations=annotations, font=dict(family=FONT, size=FS, color="black"))
fig.write_html("out.html")
